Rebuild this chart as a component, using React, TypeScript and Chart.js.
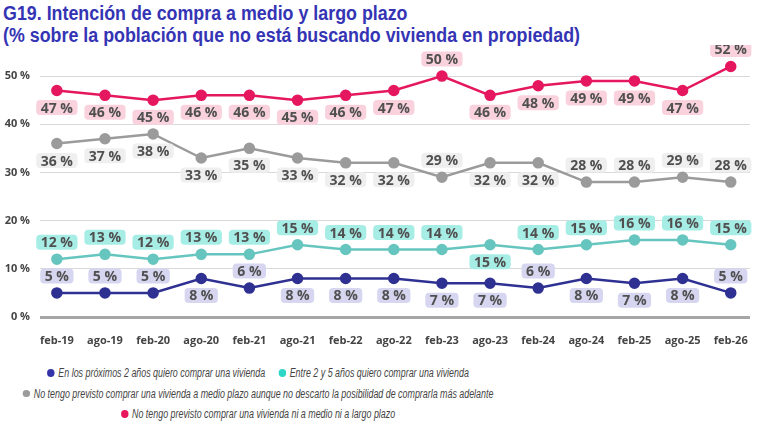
import React, { useEffect, useRef } from 'react';
import { Chart, registerables } from 'chart.js';
Chart.register(...registerables);

const titleLine1 = 'G19. Intención de compra a medio y largo plazo';
const titleLine2 = '(% sobre la población que no está buscando vivienda en propiedad)';

const categories = ['feb-19', 'ago-19', 'feb-20', 'ago-20', 'feb-21', 'ago-21', 'feb-22', 'ago-22', 'feb-23', 'ago-23', 'feb-24', 'ago-24', 'feb-25', 'ago-25', 'feb-26'];

const seriesNames = [
  'En los próximos 2 años quiero comprar una vivienda',
  'Entre 2 y 5 años quiero comprar una vivienda',
  'No tengo previsto comprar una vivienda a medio plazo aunque no descarto la posibilidad de comprarla más adelante',
  'No tengo previsto comprar una vivienda ni a medio ni a largo plazo',
];

const proximos2 = [5, 5, 5, 8, 6, 8, 8, 8, 7, 7, 6, 8, 7, 8, 5];
const entre2y5 = [12, 13, 12, 13, 13, 15, 14, 14, 14, 15, 14, 15, 16, 16, 15];
const medioPlazo = [36, 37, 38, 33, 35, 33, 32, 32, 29, 32, 32, 28, 28, 29, 28];
const niMedioNiLargo = [47, 46, 45, 46, 46, 45, 46, 47, 50, 46, 48, 49, 49, 47, 52];

// label placement: 'a' above the point, 'b' below
const proximos2Align = ['a', 'a', 'a', 'b', 'a', 'b', 'b', 'b', 'b', 'b', 'a', 'b', 'b', 'b', 'a'];
const entre2y5Align = ['a', 'a', 'a', 'a', 'a', 'a', 'a', 'a', 'a', 'b', 'a', 'a', 'a', 'a', 'a'];
const medioPlazoAlign = ['b', 'b', 'b', 'b', 'b', 'b', 'b', 'b', 'a', 'b', 'b', 'a', 'a', 'a', 'a'];
const niMedioNiLargoAlign = ['b', 'b', 'b', 'b', 'b', 'b', 'b', 'b', 'a', 'b', 'b', 'b', 'b', 'b', 'a'];

const yTicks = [0, 10, 20, 30, 40, 50];

const lineColors = ['#2f3192', '#66c6bf', '#9b9b9b', '#e5175f'];
const legendColors = ['#3333aa', '#2dd6c6', '#9b9b9b', '#e8175d'];
const labelBg = ['#d6d6f1', '#a6ede6', '#efefef', '#f9d2de'];

const seriesValues = [proximos2, entre2y5, medioPlazo, niMedioNiLargo];
const seriesAlign = [proximos2Align, entre2y5Align, medioPlazoAlign, niMedioNiLargoAlign];

const labelPlugin = {
  id: 'boxLabels',
  afterDatasetsDraw(chart: any) {
    const ctx = chart.ctx;
    ctx.save();
    ctx.font = 'bold 14px "Open Sans"';
    ctx.textAlign = 'center';
    ctx.textBaseline = 'middle';
    chart.data.datasets.forEach((ds: any, di: number) => {
      const meta = chart.getDatasetMeta(di);
      meta.data.forEach((pt: any, i: number) => {
        const v = seriesValues[di][i];
        const text = `${v} %`;
        const w = ctx.measureText(text).width + 9;
        const h = 15;
        const off = 17;
        const cy = seriesAlign[di][i] === 'a' ? pt.y - off : pt.y + off;
        ctx.fillStyle = labelBg[di];
        ctx.beginPath();
        (ctx as any).roundRect(pt.x - w / 2, cy - h / 2, w, h, 4);
        ctx.fill();
        ctx.fillStyle = '#505050';
        ctx.fillText(text, pt.x, cy + 1);
      });
    });
    ctx.restore();
  },
};

function ChartCanvas() {
  const ref = useRef<HTMLCanvasElement>(null);
  useEffect(() => {
    if (!ref.current) return;
    const datasets = seriesValues.map((vals, di) => ({
      label: seriesNames[di],
      data: vals.map((v, i) => ({ x: i, y: v })),
      borderColor: lineColors[di],
      backgroundColor: lineColors[di],
      pointBackgroundColor: lineColors[di],
      pointBorderColor: lineColors[di],
      borderWidth: 2.5,
      pointRadius: 4.5,
      tension: 0,
    }));
    const chart = new Chart(ref.current, {
      type: 'line',
      data: { datasets },
      plugins: [labelPlugin],
      options: {
        animation: false,
        responsive: false,
        maintainAspectRatio: false,
        layout: { padding: { top: 7, right: 5, left: 0, bottom: 0 } },
        plugins: { legend: { display: false }, tooltip: { enabled: false } },
        scales: {
          x: {
            type: 'linear',
            min: -0.35,
            max: 14.4,
            afterBuildTicks: (scale: any) => {
              scale.ticks = categories.map((_, i) => ({ value: i }));
            },
            afterFit: (scale: any) => {
              scale.height = 40;
              scale.paddingLeft = 0;
              scale.paddingRight = 0;
            },
            grid: { display: false, drawTicks: false },
            border: { display: false },
            ticks: {
              padding: 17,
              maxRotation: 0,
              autoSkip: false,
              color: '#444444',
              font: { family: '"Open Sans"', size: 11, weight: 'bold' },
              callback: (v: any) => categories[v] ?? '',
            },
          },
          y: {
            min: 0,
            max: 55,
            afterBuildTicks: (scale: any) => {
              scale.ticks = yTicks.map((v) => ({ value: v }));
            },
            afterFit: (scale: any) => {
              scale.width = 40;
              scale.paddingTop = 0;
              scale.paddingBottom = 0;
            },
            grid: {
              drawTicks: false,
              color: (c: any) => (c.tick && c.tick.value === 0 ? '#a6a6a6' : '#d9d9d9'),
              lineWidth: (c: any) => (c.tick && c.tick.value === 0 ? 3 : 1),
            },
            border: { display: false },
            ticks: {
              padding: 10,
              color: '#444444',
              font: { family: '"Open Sans"', size: 11, weight: 'bold' },
              callback: (v: any) => `${v} %`,
            },
          },
        },
      } as any,
    });
    return () => chart.destroy();
  }, []);
  return <canvas ref={ref} width={757} height={312} style={{ position: 'absolute', left: 0, top: 45, width: 757, height: 312 }} />;
}

export default function App() {
  const legendRows = [[0, 1], [2], [3]];
  const sx = 0.74;
  return (
    <div style={{ position: 'absolute', left: 0, top: 0, width: 757, height: 435, background: '#ffffff', overflow: 'hidden' }}>
      <div
        style={{
          position: 'absolute',
          left: 3,
          top: 2,
          fontFamily: '"Liberation Sans", sans-serif',
          fontWeight: 'bold',
          fontSize: 19.5,
          lineHeight: '22px',
          color: '#3434b4',
          whiteSpace: 'nowrap',
          transform: 'scaleX(0.915)',
          transformOrigin: 'left top',
        }}
      >
        <div>{titleLine1}</div>
        <div>{titleLine2}</div>
      </div>
      <ChartCanvas />
      <div
        style={{
          position: 'absolute',
          left: -142,
          top: 363,
          width: 800,
          textAlign: 'center',
          fontFamily: '"Liberation Sans", sans-serif',
          fontStyle: 'italic',
          fontSize: 12,
          lineHeight: '20.5px',
          color: '#444444',
          whiteSpace: 'nowrap',
        }}
      >
        {legendRows.map((row, ri) => (
          <div key={ri} style={{ transform: `scaleX(${sx})`, transformOrigin: 'center' }}>
            {row.map((si) => (
              <span key={si} style={{ margin: '0 9px' }}>
                <span
                  style={{
                    display: 'inline-block',
                    width: 7.5 / sx,
                    height: 7.5,
                    borderRadius: '50%',
                    background: legendColors[si],
                    marginRight: 5,
                    verticalAlign: 'middle',
                    position: 'relative',
                    top: -1,
                  }}
                />
                {seriesNames[si]}
              </span>
            ))}
          </div>
        ))}
      </div>
    </div>
  );
}
